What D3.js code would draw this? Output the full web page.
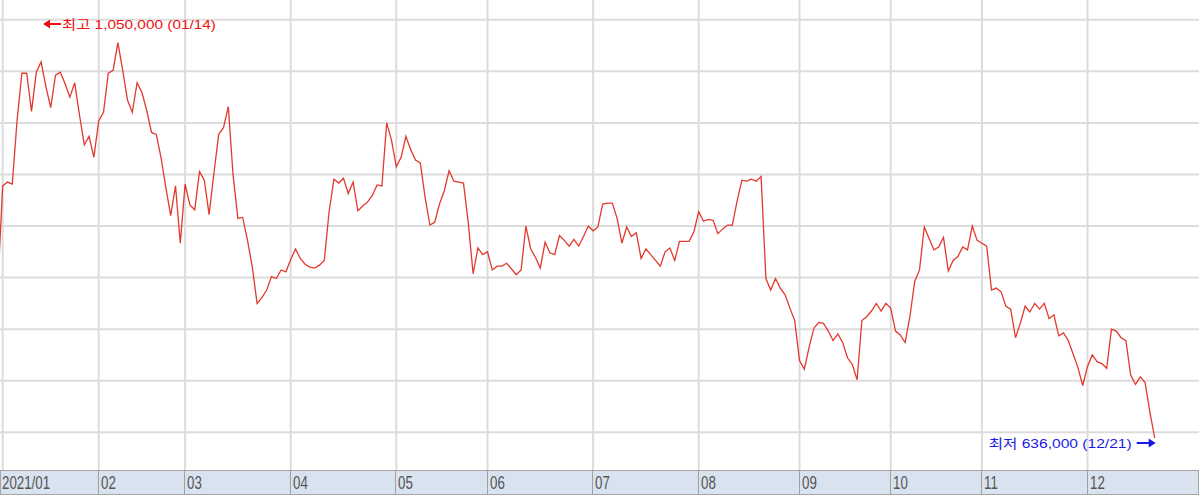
<!DOCTYPE html>
<meta charset="utf-8">
<style>
  body { margin: 0; background: #fff; }
  svg { display: block; }
  .grid line { stroke: #dcdcdc; stroke-width: 2px; }
  .price { fill: none; stroke: #e2392f; stroke-width: 1.3px; }
  .note { font-family: "Liberation Sans", Arial, "Noto Sans CJK KR", sans-serif; font-size: 13px; }
  .month { font-family: "Liberation Sans", Arial, sans-serif; font-size: 18px; fill: #555; }
</style>
<script src="https://d3js.org/d3.v7.min.js"></script>
<div id="chart"></div>
<script>

// closing prices (won), one value per trading day
var prevClose = [799000]; // last day of 2020
var jan = [900000, 904000, 902000, 969000, 1018000, 1018000, 978000, 1019000, 1030000, 1004000,
           982000, 1016000, 1019000, 1007000, 993000, 1008000, 974000, 943000, 952000, 930000];
var feb = [968000, 977000, 1018000, 1021000, 1050000, 1021000, 990000, 977000, 1008000, 998000,
           979000, 956000, 954000, 929000, 898000, 869000, 900000, 840000];
var mar = [902000, 880000, 875000, 915000, 906000, 870000, 913000, 954000, 961000, 983000, 911000,
           866000, 867000, 843000, 815000, 777000, 783000, 791000, 805000, 803000, 812000, 810000];
var apr = [823000, 834000, 824000, 818000, 815000, 814000, 817000, 822000, 873000, 907000, 903000,
           908000, 892000, 904000, 874000, 879000, 883000, 890000, 901000, 900000, 966000, 948000];
var may = [920000, 930000, 952000, 938000, 927000, 924000, 888000, 859000, 862000, 881000,
           895000, 916000, 905000, 904000, 903000, 861000, 808000, 835000, 828000];
var jun = [831000, 812000, 816000, 816000, 819000, 813000, 807000, 812000, 858000, 834000, 825000,
           814000, 841000, 830000, 828000, 848000, 843000, 837000, 844000, 837000, 847000, 858000];
var jul = [853000, 857000, 881000, 882000, 882000, 866000, 840000, 857000, 847000, 851000, 824000,
           834000, 828000, 822000, 816000, 831000, 835000, 822000, 842000, 842000, 842000, 852000];
var aug = [873000, 863000, 865000, 864000, 850000, 855000, 859000, 859000, 884000, 906000, 905000,
           907000, 905000, 910000, 803000, 791000, 803000, 793000, 786000, 772000, 759000];
var sep = [717000, 708000, 731000, 751000, 757000, 756000, 748000, 738000, 745000, 736000,
           720000, 713000, 697000, 759000, 763000, 769000, 777000, 769000, 777000];
var oct = [772000, 748000, 744000, 736000, 763000, 800000, 812000, 857000, 845000, 833000,
           836000, 846000, 811000, 822000, 826000, 836000, 833000, 858000, 843000];
var nov = [840000, 837000, 791000, 793000, 789000, 774000, 771000, 741000, 756000, 774000, 768000,
           777000, 771000, 777000, 761000, 765000, 743000, 746000, 738000, 724000, 710000, 691000];
var dec = [711000, 723000, 716000, 714000, 709000, 750000, 748000, 741000, 738000, 702000,
           692000, 700000, 694000, 663000, 636000];

var months = [jan, feb, mar, apr, may, jun, jul, aug, sep, oct, nov, dec];
var monthLabels = ["2021/01", "02", "03", "04", "05", "06", "07", "08", "09", "10", "11", "12"];
var highDate = "01/14";
var lowDate = "12/21";

var width = 1199, height = 497;
var plotBottom = 470, stripH = 25;

// flatten to points; index -1 is the 2020 close
var data = [{i: -1, v: prevClose[0]}];
var monthStart = [];
var n = 0;
months.forEach(function(m) {
  monthStart.push(n);
  m.forEach(function(v) { data.push({i: n, v: v}); n++; });
});

var x = d3.scaleLinear().domain([0, n - 1]).range([2.7, 2.7 + 4.8 * (n - 1)]);
var ext = d3.extent(data.slice(1), function(d) { return d.v; });
var y = d3.scaleLinear().domain(ext).range([plotBottom - 32, 42.7]);

var gridValues = d3.range(642000, 1080001, 54000);

var svg = d3.select("#chart").append("svg")
    .attr("width", width)
    .attr("height", height);

svg.append("clipPath").attr("id", "plot")
  .append("rect").attr("x", 0).attr("y", 0).attr("width", width).attr("height", plotBottom);

var grid = svg.append("g").attr("class", "grid");
grid.selectAll(".h").data(gridValues).enter().append("line")
    .attr("x1", 0).attr("x2", width)
    .attr("y1", function(d) { return y(d); })
    .attr("y2", function(d) { return y(d); });
grid.selectAll(".v").data(monthStart).enter().append("line")
    .attr("x1", function(d) { return x(d); })
    .attr("x2", function(d) { return x(d); })
    .attr("y1", 0).attr("y2", plotBottom);

var line = d3.line()
    .x(function(d) { return x(d.i); })
    .y(function(d) { return y(d.v); });

svg.append("path")
    .datum(data)
    .attr("class", "price")
    .attr("clip-path", "url(#plot)")
    .attr("d", line);

// month strip at the bottom
var strip = svg.append("g");
strip.append("rect")
    .attr("x", 0.5).attr("y", plotBottom + 0.5)
    .attr("width", width - 1).attr("height", stripH - 1)
    .attr("fill", "#d9e3ef").attr("stroke", "#a5a5a5");
strip.selectAll(".sep").data(monthStart.slice(1)).enter().append("line")
    .attr("x1", function(d) { return Math.round(x(d)) - 0.5; })
    .attr("x2", function(d) { return Math.round(x(d)) - 0.5; })
    .attr("y1", plotBottom).attr("y2", plotBottom + stripH)
    .attr("stroke", "#a0a0a0");
strip.selectAll(".month").data(monthStart).enter().append("text")
    .attr("class", "month")
    .attr("transform", function(d, k) {
      var tx = k === 0 ? 2 : Math.round(x(d)) + 2;
      return "translate(" + tx + "," + (plotBottom + 19) + ") scale(0.74,1)";
    })
    .text(function(d, k) { return monthLabels[k]; });

// high / low notes
var fmt = d3.format(",");
var hi = d3.greatest(data, function(d) { return d.v; });
var lo = d3.least(data, function(d) { return d.v; });

var hiNote = svg.append("g").attr("fill", "#f01010");
hiNote.append("path")
    .attr("d", "M43,24 L50,19.5 L50,28.5 Z");
hiNote.append("line")
    .attr("x1", 49).attr("x2", 61).attr("y1", 24).attr("y2", 24)
    .attr("stroke", "#f01010").attr("stroke-width", 2);
hiNote.append("text")
    .attr("class", "note")
    .attr("x", 62).attr("y", 29)
    .attr("textLength", 154).attr("lengthAdjust", "spacingAndGlyphs")
    .text("최고 " + fmt(hi.v) + " (" + highDate + ")");

var lx = x(lo.i) + 1, ly = y(lo.v) + 5;
var loNote = svg.append("g").attr("fill", "#1a1ae6");
loNote.append("path")
    .attr("d", "M" + lx + "," + ly + " L" + (lx - 7) + "," + (ly - 4.5) + " L" + (lx - 7) + "," + (ly + 4.5) + " Z");
loNote.append("line")
    .attr("x1", lx - 19).attr("x2", lx - 6).attr("y1", ly).attr("y2", ly)
    .attr("stroke", "#1a1ae6").attr("stroke-width", 2);
loNote.append("text")
    .attr("class", "note")
    .attr("x", lx - 24).attr("y", ly + 5)
    .attr("text-anchor", "end")
    .attr("textLength", 143).attr("lengthAdjust", "spacingAndGlyphs")
    .text("최저 " + fmt(lo.v) + " (" + lowDate + ")");

</script>
